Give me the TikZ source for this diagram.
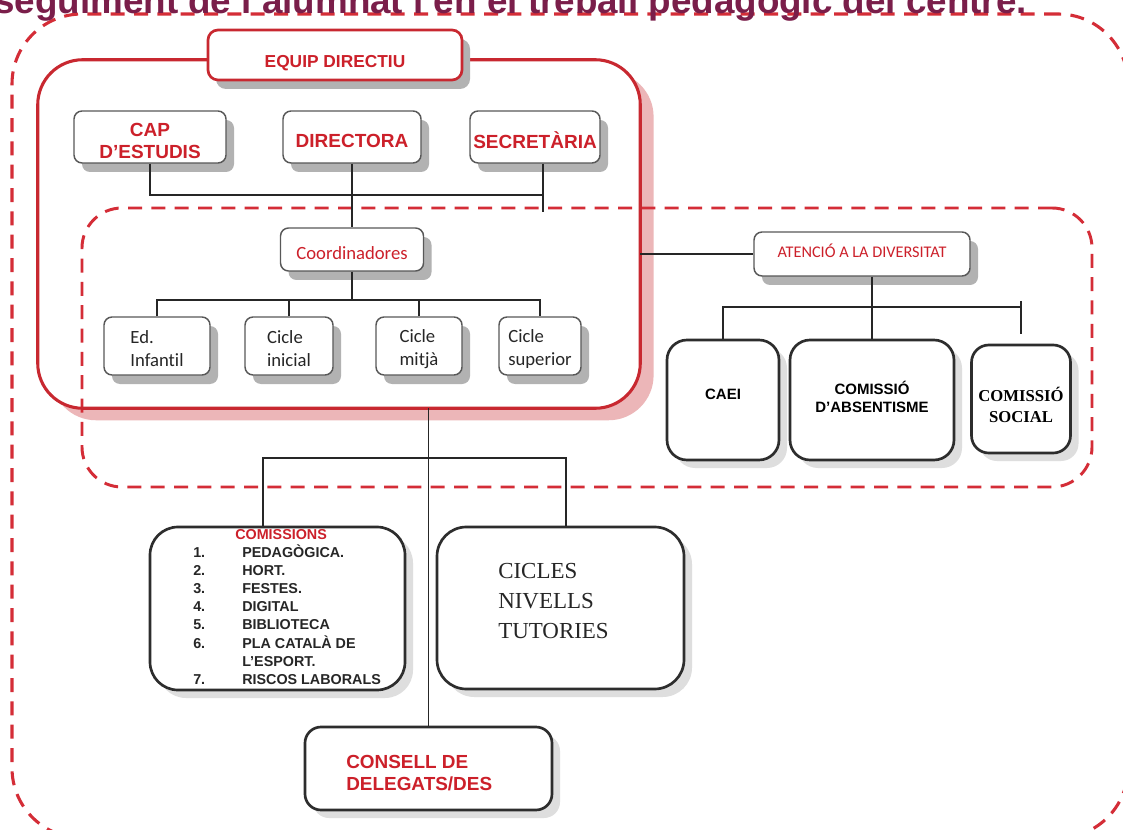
\documentclass[tikz,border=0pt]{standalone}
\usepackage{fontspec}
\setmainfont{Liberation Sans}
\newfontfamily\calfont[Ligatures=NoCommon]{Carlito}
\newfontfamily\serfont{Liberation Serif}
\usetikzlibrary{shadows}
\definecolor{tred}{RGB}{204,32,42}
\definecolor{bred}{RGB}{200,40,48}
\definecolor{dred}{RGB}{212,45,55}
\definecolor{pinksh}{RGB}{236,182,184}
\definecolor{bgray}{RGB}{88,88,88}
\definecolor{dkgray}{RGB}{45,45,45}
\definecolor{titlec}{RGB}{122,30,74}
\newcommand\lowr[2]{\raisebox{-#1}[\height][\depth]{#2}}
\tikzset{
  sz/.style 2 args={minimum width={#1*0.75pt}, minimum height={#2*0.75pt}},
  gbox/.style={draw=bgray, line width=1.1pt, fill=white, rounded corners=6pt, inner sep=0pt,
    drop shadow={shadow xshift=6pt, shadow yshift=-6.75pt, fill=black!30, opacity=1}},
  rbox/.style={gbox, draw=bred, line width=2pt, rounded corners=7.5pt},
  kbox/.style={draw=dkgray, line width=2pt, fill=white, rounded corners=15pt, inner sep=0pt,
    drop shadow={shadow xshift=6pt, shadow yshift=-6pt, fill=black!13, opacity=1}},
  dashbox/.style={draw=dred, line width=2.2pt, dash pattern=on 10.5pt off 7pt, inner sep=0pt},
  conn/.style={draw=black!85, line width=0.9pt},
  rtxt/.style={text=tred, font=\bfseries\fontsize{14.25pt}{16.5pt}\selectfont, align=center},
  ctxt/.style={text=black!85, font=\calfont\fontsize{14pt}{17.25pt}\selectfont, align=left},
  ktxt/.style={text=black, font=\bfseries\fontsize{11.25pt}{13.5pt}\selectfont, align=center},
}
\begin{document}
\begin{tikzpicture}[x=0.75pt,y=-0.75pt]
\useasboundingbox (0,0) rectangle (1123,830);
\clip (0,0) rectangle (1123,830);
\fill[white] (0,0) rectangle (1123,830);

% outer dashed frame
\node[dashbox, sz={1116}{824}, rounded corners=52.5pt, line width=2.3pt] (outer) at (570,426) {};
% title (cut by the top edge)
\node[anchor=base west, inner sep=0pt, text=titlec, font=\bfseries\fontsize{27.6pt}{30pt}\selectfont] (title) at (-6,14) {seguiment de l'alumnat i en el treball pedagògic del centre.};

% equip directiu container
\node[sz={602}{348}, inner sep=0pt] (ed) at (339,234) {};
\fill[pinksh, rounded corners=33.75pt] ([shift={(10pt,-9pt)}]ed.north west) rectangle ([shift={(10pt,-9pt)}]ed.south east);
\fill[white, rounded corners=33.75pt] (ed.north west) rectangle (ed.south east);

% inner dashed frame
\node[dashbox, sz={1010}{279}, rounded corners=30pt] (div) at (587,347.5) {};

\draw[bred, line width=2.3pt, rounded corners=33.75pt] (ed.north west) rectangle (ed.south east);

% coordinates for connectors
\coordinate (j1) at (543,195);
\coordinate (secend) at (543,212);
\coordinate (bus) at (352,300);
\coordinate (hb) at (872,307);
\coordinate (socT) at (1021,301);
\coordinate (socB) at (1021,334);
\coordinate (cb) at (427,458);

% nodes
\node[rbox, sz={254}{50}] (eql) at (335,55) {\textcolor{tred}{\bfseries\fontsize{13pt}{15pt}\selectfont\lowr{6pt}{EQUIP DIRECTIU}}};
\node[gbox, sz={152}{52}, rtxt] (cap) at (150,137) {\lowr{3pt}{CAP}\\\lowr{3pt}{D’ESTUDIS}};
\node[gbox, sz={138}{52}, rtxt] (dir) at (352,137) {\lowr{3pt}{DIRECTORA}};
\node[gbox, sz={130}{52}, rtxt] (sec) at (535,137) {\lowr{2.5pt}{SECRETÀRIA}};

\node[gbox, sz={143}{43}, text=tred, font=\calfont\fontsize{14pt}{16pt}\selectfont] (coord) at (352,249.5) {\lowr{3pt}{Coordinadores}};
\node[gbox, sz={106}{58}, ctxt] (edinf) at (157,346) {\lowr{2pt}{Ed.}\\\lowr{2pt}{Infantil}};
\node[gbox, sz={88}{58}, ctxt] (ini) at (289,346) {\lowr{2pt}{Cicle}\\\lowr{2pt}{inicial}};
\node[gbox, sz={86}{58}, ctxt] (mit) at (419,346) {\lowr{2pt}{Cicle}\\\lowr{2pt}{mitjà}};
\node[gbox, sz={82}{58}, ctxt] (sup) at (540,346) {\lowr{2pt}{Cicle}\\\lowr{2pt}{superior}};

\node[gbox, sz={216}{44}, text=tred, font=\calfont\fontsize{12.2pt}{14pt}\selectfont] (atd) at (862,254) {\lowr{-2.5pt}{ATENCIÓ A LA DIVERSITAT}};
\node[kbox, sz={112}{120}, ktxt] (caei) at (723,400) {\lowr{-4pt}{CAEI}};
\node[kbox, sz={164}{120}, ktxt] (abs) at (872,400) {\lowr{-2pt}{COMISSIÓ}\\\lowr{-2pt}{D’ABSENTISME}};
\node[kbox, sz={99}{108}, text=black, font=\serfont\bfseries\fontsize{12.5pt}{15.75pt}\selectfont, align=center, rounded corners=13pt] (soc) at (1021,399) {\lowr{4.5pt}{COMISSIÓ}\\\lowr{4.5pt}{SOCIAL}};

\node[kbox, sz={255}{163}, rounded corners=21pt] (com) at (277.5,608.5) {};
\node[anchor=north west, inner sep=0pt, text=black!85, font=\bfseries\fontsize{10.75pt}{13.5pt}\selectfont] (comtxt) at (193,527) {%
\renewcommand\arraystretch{1}\setlength\tabcolsep{0pt}%
\begin{tabular}{p{36.75pt}l}
\multicolumn{2}{l}{\hspace*{31.5pt}\textcolor{tred}{COMISSIONS}}\\
1. & PEDAGÒGICA.\\
2. & HORT.\\
3. & FESTES.\\
4. & DIGITAL\\
5. & BIBLIOTECA\\
6. & PLA CATALÀ DE\\
   & L'ESPORT.\\
7. & RISCOS LABORALS
\end{tabular}};

\node[kbox, sz={247}{162}, rounded corners=22pt] (cic) at (560.5,608) {};
\node[anchor=north west, inner sep=0pt, text=black!85, font=\serfont\fontsize{17.2pt}{22.5pt}\selectfont, align=left] (cictxt) at (498,563) {CICLES\\NIVELLS\\TUTORIES};

\node[kbox, sz={247}{83}, rounded corners=12pt] (cons) at (428.5,768.5) {};
\node[anchor=west, inner sep=0pt, text=tred, font=\bfseries\fontsize{14.2pt}{16.5pt}\selectfont, align=left] (constxt) at (346,773) {CONSELL DE\\DELEGATS/DES};

% connectors
\draw[conn] (cap.south) |- (j1);
\draw[conn] (sec.south -| j1) -- (secend);
\draw[conn] (dir.south) -- (coord.north);
\draw[conn] (coord.south) -- (bus);
\draw[conn] (edinf.north) |- (bus) -| (sup.north);
\draw[conn] (ini.north) -- (ini.north |- bus);
\draw[conn] (mit.north) -- (mit.north |- bus);

\draw[conn] (ed.east |- atd.west) -- (atd.west);
\draw[conn] (atd.south -| abs.north) -- (abs.north);
\draw[conn] (caei.north) |- (socT |- hb);
\draw[conn] (socT) -- (socB);

\draw[conn] (ed.south -| cons.north) -- (cons.north);
\draw[conn] ([xshift=-10.9pt]com.north) |- (cb) -| ([xshift=4.1pt]cic.north);
\end{tikzpicture}
\end{document}
